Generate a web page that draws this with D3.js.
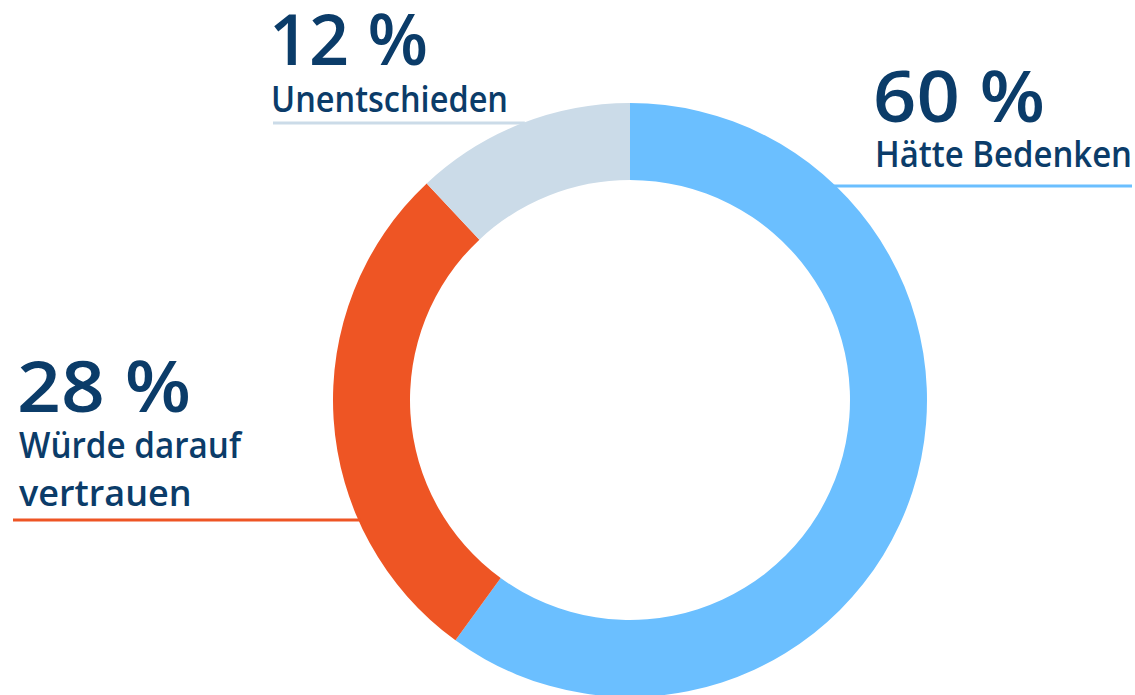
<!DOCTYPE html>
<html>
<head>
<meta charset="utf-8">
<script src="https://cdn.jsdelivr.net/npm/d3@7"></script>
<style>
  html, body { margin: 0; padding: 0; background: #fff; }
  svg { display: block; }
  text { font-family: "Open Sans", "Noto Sans", sans-serif; fill: #0b3c69; }
</style>
</head>
<body>
<div id="chart"></div>
<script>
// data
var categories = ["Hätte Bedenken", "Würde darauf vertrauen", "Unentschieden"];
var values = [60, 28, 12];
var colors = ["#6bbfff", "#ee5524", "#cbdbe8"];
var valueLabels = ["60 %", "28 %", "12 %"];
var labelLines = [["Hätte Bedenken"], ["Würde darauf", "vertrauen"], ["Unentschieden"]];

var width = 1135, height = 695;
var cx = 630, cy = 400, outerR = 297, innerR = 220;

var svg = d3.select("#chart")
  .append("svg")
    .attr("width", width)
    .attr("height", height);

var pie = d3.pie().sort(null).value(function (d) { return d; });
var arc = d3.arc().innerRadius(innerR).outerRadius(outerR);

var ring = svg.append("g")
  .attr("transform", "translate(" + cx + "," + cy + ")");

ring.selectAll("path")
  .data(pie(values))
  .enter()
  .append("path")
    .attr("d", arc)
    .style("fill", function (d, i) { return colors[i]; });

// label layout (positions only)
var labelPos = [
  { x: 873, numY: 122, numW: 172, textY: 167, textW: 257, lineY: 186, lineX: 1132, side: "right" },
  { x: 17,  numY: 412, numW: 174, textY: 458, textW: 222, lineY: 520, lineX: 13,   side: "left" },
  { x: 269, numY: 65,  numW: 159, textY: 112, textW: 237, lineY: 123, lineX: 273,  side: "left" }
];
var lineH = 48;

// where a horizontal leader meets the outer edge of the ring
function ringX(y, side) {
  var dy = cy - y;
  var dx = Math.sqrt(outerR * outerR - dy * dy);
  return side === "right" ? cx + dx - 2 : cx - dx + 2;
}

var labels = svg.append("g");
values.forEach(function (v, i) {
  var p = labelPos[i];
  labels.append("line")
    .attr("x1", p.lineX)
    .attr("x2", ringX(p.lineY, p.side))
    .attr("y1", p.lineY)
    .attr("y2", p.lineY)
    .style("stroke", colors[i])
    .style("stroke-width", 3);

  labels.append("text")
    .attr("x", p.x)
    .attr("y", p.numY)
    .attr("textLength", p.numW)
    .attr("lengthAdjust", "spacingAndGlyphs")
    .style("font-size", "70px")
    .style("font-weight", 600)
    .text(valueLabels[i]);

  labelLines[i].forEach(function (t, j) {
    var tx = labels.append("text")
      .attr("x", p.x + 2)
      .attr("y", p.textY + j * lineH)
      .style("font-size", "36px")
      .style("font-weight", 600)
      .text(t);
    if (j === 0) {
      tx.attr("textLength", p.textW).attr("lengthAdjust", "spacingAndGlyphs");
    }
  });
});
</script>
</body>
</html>
